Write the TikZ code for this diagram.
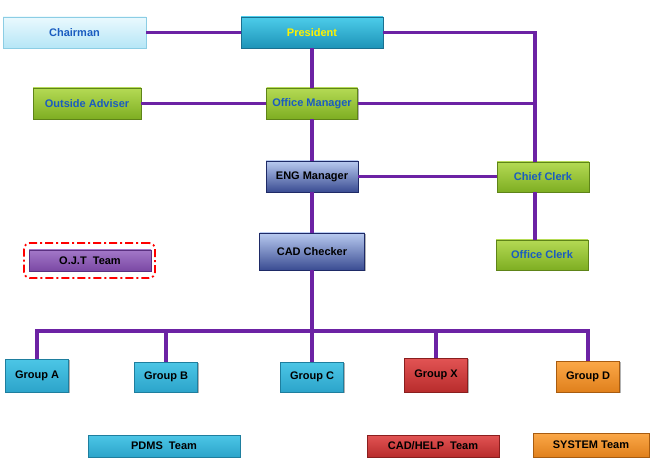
\documentclass[tikz,border=0pt]{standalone}
\usepackage{fontspec}
\setmainfont{Liberation Sans}
\usetikzlibrary{shadows}
\definecolor{linec}{HTML}{6C22A4}
\definecolor{txtblue}{HTML}{1A5CC0}
\definecolor{chairT}{HTML}{EAF9FE}\definecolor{chairB}{HTML}{B6E6F6}\definecolor{chairD}{HTML}{8CCDE4}
\definecolor{presT}{HTML}{4CCCEA}\definecolor{presB}{HTML}{1E94B8}\definecolor{presD}{HTML}{1A7090}
\definecolor{grnT}{HTML}{B4DA54}\definecolor{grnB}{HTML}{7EAE22}\definecolor{grnD}{HTML}{5E8418}
\definecolor{navT}{HTML}{B8CAF0}\definecolor{navB}{HTML}{3A4C92}\definecolor{navD}{HTML}{1E2A66}
\definecolor{ojtT}{HTML}{A378C8}\definecolor{ojtB}{HTML}{7A48A4}\definecolor{ojtD}{HTML}{5A3080}
\definecolor{cyT}{HTML}{4CC6E6}\definecolor{cyB}{HTML}{2CA4CA}\definecolor{cyD}{HTML}{1E7E9E}
\definecolor{rdT}{HTML}{E25454}\definecolor{rdB}{HTML}{B82C2C}\definecolor{rdD}{HTML}{8A1E1E}
\definecolor{orT}{HTML}{FBA848}\definecolor{orB}{HTML}{E0801C}\definecolor{orD}{HTML}{A85C10}
\tikzset{
  box/.style={rectangle, inner sep=0pt, line width=0.8pt, font=\fontsize{11}{13}\selectfont\bfseries,
    drop shadow={shadow xshift=1.2pt, shadow yshift=-1.2pt, opacity=0.3, fill=black}},
  chairbox/.style={box, draw=chairD, top color=chairT, bottom color=chairB, text=txtblue},
  presbox/.style={box, draw=presD, top color=presT, bottom color=presB, text=yellow},
  greenbox/.style={box, draw=grnD, top color=grnT, bottom color=grnB, text=txtblue},
  navybox/.style={box, draw=navD, top color=navT, bottom color=navB, text=black},
  ojtbox/.style={box, draw=ojtD, top color=ojtT, bottom color=ojtB, text=black},
  cyanbox/.style={box, draw=cyD, top color=cyT, bottom color=cyB, text=black},
  redbox/.style={box, draw=rdD, top color=rdT, bottom color=rdB, text=black},
  orangebox/.style={box, draw=orD, top color=orT, bottom color=orB, text=black},
  conn/.style={draw=linec, line width=3.2pt},
  ojtframe/.style={draw=red, line width=1.8pt, rounded corners=6pt, dash pattern=on 8pt off 3pt on 2pt off 3pt}
}
\begin{document}
\begin{tikzpicture}[x=1pt,y=-1pt]
\useasboundingbox (0,0) rectangle (650,470);
% connectors first (under the boxes)
\coordinate (rt) at (535,32.5);
\coordinate (busy) at (0,331);
\node[chairbox, minimum width=143pt, minimum height=31pt] (chairman) at (74.5,32.5) {Chairman};
\node[presbox, minimum width=142pt, minimum height=31pt] (president) at (312,32.5) {President};
\node[greenbox, minimum width=108pt, minimum height=31pt] (adviser) at (87,103.5) {Outside Adviser};
\node[greenbox, minimum width=91pt, minimum height=31pt] (officemgr) at (312,103.5) {Office Manager};
\node[navybox, minimum width=92pt, minimum height=31pt] (eng) at (312,176.5) {ENG Manager};
\node[navybox, minimum width=105pt, minimum height=37pt] (cad) at (312,251.5) {CAD Checker};
\node[greenbox, minimum width=92pt, minimum height=30pt] (chief) at (543,177) {Chief Clerk};
\node[greenbox, minimum width=92pt, minimum height=30pt] (offclerk) at (542,255) {Office Clerk};
\node[ojtbox, minimum width=122pt, minimum height=21pt] (ojt) at (90,260.5) {O.J.T\ \ Team};
\node[ojtframe, minimum width=131pt, minimum height=35pt] (ojtf) at (89.5,260.5) {};
\node[cyanbox, minimum width=63pt, minimum height=33pt] (groupA) at (37,375.5) {Group A};
\node[cyanbox, minimum width=63pt, minimum height=30pt] (groupB) at (166,377) {Group B};
\node[cyanbox, minimum width=63pt, minimum height=30pt] (groupC) at (312,377) {Group C};
\node[redbox, minimum width=63pt, minimum height=34pt] (groupX) at (436,375) {Group X};
\node[orangebox, minimum width=63pt, minimum height=31pt] (groupD) at (588,376.5) {Group D};
\node[cyanbox, minimum width=152pt, minimum height=22pt] (pdms) at (164,446) {PDMS\ \ Team};
\node[redbox, minimum width=132pt, minimum height=22pt] (cadhelp) at (433,446) {CAD/HELP\ \ Team};
\node[orangebox, minimum width=116pt, minimum height=24pt] (system) at (591,445) {SYSTEM Team};
% connectors
\draw[conn] (chairman.east) -- (president.west);
\draw[conn] (president.south) -- (officemgr.north);
\draw[conn] (adviser.east) -- (officemgr.west);
\draw[conn] (president.east) -- (rt) -- (rt |- chief.north);
\draw[conn] (officemgr.east) -- (rt |- officemgr.east);
\draw[conn] (rt |- chief.south) -- (rt |- offclerk.north);
\draw[conn] (eng.east) -- (eng.east -| chief.west);
\draw[conn] (officemgr.south) -- (eng.north);
\draw[conn] (eng.south) -- (cad.north);
\draw[conn] (cad.south) -- (cad.south |- busy);
\draw[conn] (groupA.north) -- (groupA.north |- busy) -- (groupD.north |- busy) -- (groupD.north);
\draw[conn] (groupB.north) -- (groupB.north |- busy);
\draw[conn] (groupC.north) -- (groupC.north |- busy);
\draw[conn] (groupX.north) -- (groupX.north |- busy);
\end{tikzpicture}
\end{document}
